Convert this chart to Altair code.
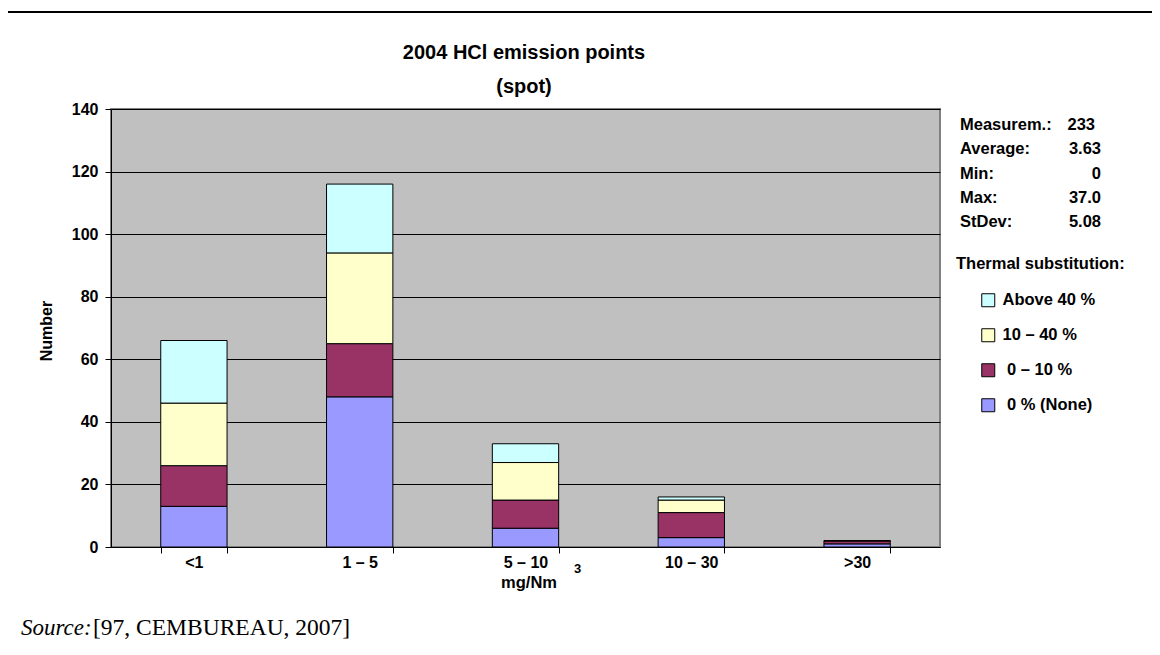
import altair as alt
import pandas as pd

# ---- data ----
categories = ["<1", "1 – 5", "5 – 10", "10 – 30", ">30"]
none_0 = [13, 48, 6, 3, 1]
pct_0_10 = [13, 17, 9, 8, 1]
pct_10_40 = [20, 29, 12, 4, 0]
above_40 = [20, 22, 6, 1, 0]

series_names = ["\u200b\u00a00 % (None)", "\u200b\u00a00 – 10 %", "10 – 40 %", "Above 40 %"]
series_values = [none_0, pct_0_10, pct_10_40, above_40]
series_colors = ["#9999FF", "#993366", "#FFFFCC", "#CCFFFF"]

stat_labels = ["Measurem.:", "Average:", "Min:", "Max:", "StDev:"]
stat_values = ["233", "3.63", "0", "37.0", "5.08"]

y_ticks = [0, 20, 40, 60, 80, 100, 120, 140]

rows = []
for si, (name, vals) in enumerate(zip(series_names, series_values)):
    for cat, v in zip(categories, vals):
        rows.append({"cat": cat, "series": name, "value": v, "ord": si})
df = pd.DataFrame(rows)

FONT = "Liberation Sans"
FS = 16
W, H = 829, 438

legend_domain = list(reversed(series_names))
legend_range = list(reversed(series_colors))

bars = alt.Chart(df).mark_bar(stroke="black", strokeWidth=1).encode(
    x=alt.X("cat:N", sort=categories,
            scale=alt.Scale(paddingInner=0.6, paddingOuter=0.3),
            axis=alt.Axis(title=None, labelAngle=0, labelFont=FONT, labelFontSize=FS,
                          labelFontWeight="bold", labelColor="black",
                          domainColor="black", tickColor="black", tickSize=6,
                          tickBand="extent", labelPadding=1, grid=False)),
    y=alt.Y("value:Q", stack="zero",
            scale=alt.Scale(domain=[0, 140], nice=False),
            axis=alt.Axis(title=None, values=y_ticks, labelFont=FONT, labelFontSize=FS,
                          labelFontWeight="bold", labelColor="black",
                          domainColor="black", tickColor="black", tickSize=6,
                          labelPadding=7, grid=True, gridColor="black", gridWidth=1)),
    color=alt.Color("series:N",
                    scale=alt.Scale(domain=legend_domain, range=legend_range),
                    legend=alt.Legend(title=None, orient="none", legendX=869, legendY=183,
                                      symbolType="square", symbolSize=169,
                                      symbolStrokeColor="black", symbolStrokeWidth=1,
                                      labelFont=FONT, labelFontSize=16.5, labelFontWeight="bold",
                                      labelColor="black", labelOffset=6, rowPadding=17)),
    order=alt.Order("ord:Q", sort="ascending"),
)

layers = [bars]

def txt(s, x, y, size=FS, weight="bold", align="left", font=FONT, style="normal", angle=0, baseline="middle"):
    kw = dict(text=s, font=font, fontSize=size, fontWeight=weight, align=align,
              baseline=baseline, color="black", fontStyle=style)
    if angle:
        kw["angle"] = angle
    return alt.Chart(pd.DataFrame({"a": [0]})).mark_text(**kw).encode(
        x=alt.value(x), y=alt.value(y))

# titles
layers.append(txt("2004 HCl emission points", 413, -56, size=20, align="center"))
layers.append(txt("(spot)", 413, -22, size=20, align="center"))
layers.append(txt("Number", -64, H / 2 + 3, size=FS, align="center", angle=270))
layers.append(txt("mg/Nm", 418, 474, size=16.5, align="center"))
layers.append(txt("3", 463, 460, size=13, align="left"))

# stats block
for i, (lab, val) in enumerate(zip(stat_labels, stat_values)):
    y = 16 + i * 24.3
    layers.append(txt(lab, 849, y, size=16.5))
    layers.append(txt(val, 990 if val != "233" else 984, y, size=16.5, align="right"))

layers.append(txt("Thermal substitution:", 845, 155, size=16.5))

# source line
layers.append(txt("Source:", -90, 519, size=23, weight="normal", font="Liberation Serif", style="italic"))
layers.append(txt("[97, CEMBUREAU, 2007]", -18, 519, size=23.5, weight="normal", font="Liberation Serif"))

# outer frame (top and left edges)
frame_top = alt.Chart(pd.DataFrame({"a": [0]})).mark_rule(color="black", strokeWidth=2).encode(
    x=alt.value(-104), x2=alt.value(1060), y=alt.value(-97))
frame_left = alt.Chart(pd.DataFrame({"a": [0]})).mark_rule(color="black", strokeWidth=2).encode(
    x=alt.value(-104), y=alt.value(-97), y2=alt.value(560))
layers += [frame_top, frame_left]

chart = alt.layer(*layers).properties(
    width=W, height=H,
    background="white",
    autosize=alt.AutoSizeParams(type="none"),
    padding={"left": 103, "top": 101, "right": 212, "bottom": 100},
).configure_view(
    fill="#C0C0C0", stroke="#808080", strokeWidth=2
)

chart.save("out.html", embed_options={"renderer": "svg", "actions": False})
